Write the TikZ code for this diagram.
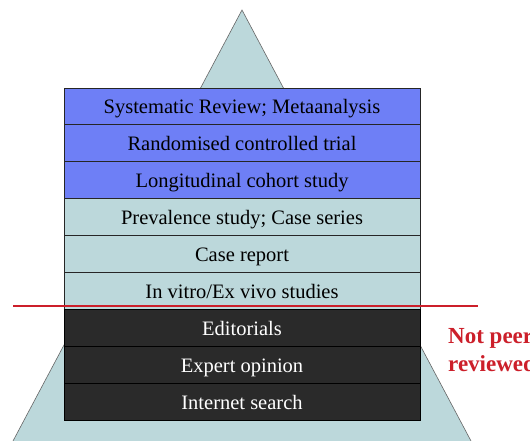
\documentclass[tikz,border=0pt]{standalone}
\usepackage{fontspec}
\setmainfont{Liberation Serif}
\definecolor{pblue}{HTML}{6E7FF6}
\definecolor{pteal}{HTML}{BCD8DB}
\definecolor{pdark}{HTML}{2A2A2A}
\definecolor{pred}{HTML}{CC1F2A}
\tikzset{
  row/.style={draw=black!85, line width=0.8pt, minimum width=356pt, minimum height=36.9pt, inner sep=0pt, text height=16pt, text depth=1pt, font=\fontsize{20.5}{22}\selectfont},
  hi/.style={row, fill=pblue, text=black},
  mid/.style={row, fill=pteal, text=black},
  lo/.style={row, fill=pdark, draw=black, text=white},
}
\begin{document}
\begin{tikzpicture}[x=1pt,y=1pt]
\useasboundingbox (0,0) rectangle (530,441);
\fill[white] (0,0) rectangle (530,441);
% pyramid
\coordinate (apex) at (242,431);
\coordinate (bl) at (13,0);
\coordinate (br) at (471,0);
\filldraw[fill=pteal, draw=gray!80!black, line width=0.6pt] (bl) -- (apex) -- (br);
% rows
\def\rh{36.9}
\node[hi]  (r1) at (242,{441-88-0.5*\rh}) {Systematic Review; Metaanalysis};
\node[hi]  (r2) at (242,{441-88-1.5*\rh}) {Randomised controlled trial};
\node[hi]  (r3) at (242,{441-88-2.5*\rh}) {Longitudinal cohort study};
\node[mid] (r4) at (242,{441-88-3.5*\rh}) {Prevalence study; Case series};
\node[mid] (r5) at (242,{441-88-4.5*\rh}) {Case report};
\node[mid] (r6) at (242,{441-88-5.5*\rh}) {In vitro/Ex vivo studies};
\node[lo]  (r7) at (242,{441-88-6.5*\rh}) {Editorials};
\node[lo]  (r8) at (242,{441-88-7.5*\rh}) {Expert opinion};
\node[lo]  (r9) at (242,{441-88-8.5*\rh}) {Internet search};
% red divider
\coordinate (rl) at (13,135);
\coordinate (rr) at (478,135);
\draw[pred, line width=1.2pt] (rl) -- (rr);
% label
\node[anchor=north west, align=left, inner sep=0pt, text=pred, font=\bfseries\fontsize{23}{28.5}\selectfont] (np) at (448,113) {Not peer\\reviewed};
\end{tikzpicture}
\end{document}
